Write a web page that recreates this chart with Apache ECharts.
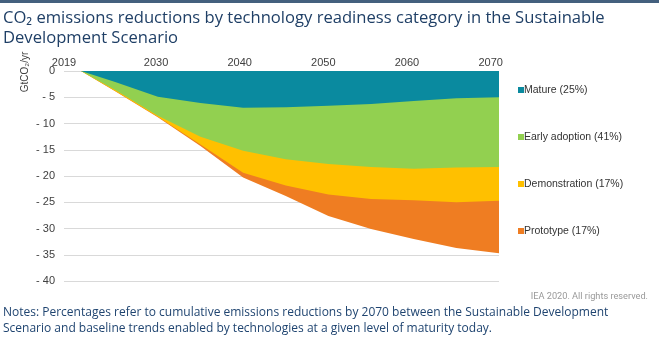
<!DOCTYPE html>
<html>
<head>
<meta charset="utf-8">
<title>CO₂ emissions reductions by technology readiness category</title>
<script src="https://cdn.jsdelivr.net/npm/echarts@6/dist/echarts.min.js"></script>
<style>
  html, body { margin: 0; padding: 0; background: #ffffff; }
  #chart { width: 659px; height: 341px; }
</style>
</head>
<body>
<div id="chart"></div>
<script>
// Years at which the reductions are given (GtCO2/yr, negative = reduction)
const years = [2019, 2021, 2025, 2030, 2035, 2040, 2045, 2050, 2055, 2060, 2065, 2070];

const mature        = [0, 0, -2.1, -4.9, -6.1, -7.0, -6.9, -6.6, -6.3, -5.7, -5.2, -5.0];
const earlyAdoption = [0, 0, -1.5, -3.6, -6.4, -8.2, -9.9, -11.1, -12.0, -12.9, -13.2, -13.3];
const demonstration = [0, 0, -0.2, -0.2, -1.5, -4.2, -5.0, -5.8, -6.1, -6.0, -6.6, -6.4];
const prototype     = [0, 0, -0.05, -0.1, -0.3, -0.9, -2.0, -4.1, -5.7, -7.4, -8.7, -10.0];

const seriesNames = ['Mature (25%)', 'Early adoption (41%)', 'Demonstration (17%)', 'Prototype (17%)'];
const seriesColors = ['#0a8a9f', '#92d050', '#ffc000', '#ef7d22'];

const yearTicks = [2019, 2030, 2040, 2050, 2060, 2070];
const yTicks = { min: -40, max: 0, step: 5 };

const titleText = 'CO₂ emissions reductions by technology readiness category in the Sustainable\nDevelopment Scenario';
const notesText = 'Notes: Percentages refer to cumulative emissions reductions by 2070 between the Sustainable Development\nScenario and baseline trends enabled by technologies at a given level of maturity today.';
const creditText = 'IEA 2020. All rights reserved.';
const unitText = 'GtCO₂/yr';

// Stack the categories: each band's lower edge is the running total down to it.
const values = [mature, earlyAdoption, demonstration, prototype];
const running = values.map((_, k) =>
  years.map((y, i) => {
    let s = 0;
    for (let j = 0; j <= k; j++) s += values[j][i];
    return [y, Math.round(s * 100) / 100];
  })
);

const chart = echarts.init(document.getElementById('chart'), null, { renderer: 'canvas' });

const axisFont = 'Liberation Sans, Arial, sans-serif';
const textFont = '"Open Sans", Roboto, sans-serif';

// Deepest band first, so each shallower band is painted over it.
const bandSeries = [3, 2, 1, 0].map(k => ({
  name: seriesNames[k],
  type: 'line',
  xAxisIndex: 1,
  symbol: 'none',
  lineStyle: { width: 0 },
  itemStyle: { color: seriesColors[k] },
  areaStyle: { color: seriesColors[k], opacity: 1, origin: 0 },
  data: running[k]
}));

chart.setOption({
  animation: false,
  backgroundColor: '#ffffff',
  grid: { left: 64, right: 160, top: 71, bottom: 60 },
  xAxis: [
    {
      // year labels along the top
      type: 'value',
      position: 'top',
      min: 2019,
      max: 2071,
      axisLine: { show: false },
      axisTick: { show: false },
      splitLine: { show: false },
      axisLabel: {
        customValues: yearTicks,
        formatter: v => String(v),
        color: '#404040',
        fontFamily: axisFont,
        fontSize: 11,
        margin: 3
      }
    },
    {
      // axis that carries the data
      type: 'value',
      min: 2019,
      max: 2070,
      show: false
    }
  ],
  yAxis: {
    type: 'value',
    min: yTicks.min,
    max: yTicks.max,
    interval: yTicks.step,
    axisLine: { show: false },
    axisTick: { show: false },
    splitLine: { lineStyle: { color: '#d9d9d9', width: 1 } },
    axisLabel: {
      color: '#404040',
      fontFamily: axisFont,
      fontSize: 11,
      margin: 9,
      formatter: v => (v === 0 ? '0' : '- ' + Math.abs(v))
    }
  },
  legend: {
    orient: 'vertical',
    left: 513,
    top: 78,
    itemWidth: 6,
    itemHeight: 6,
    itemGap: 33,
    icon: 'rect',
    data: seriesNames,
    textStyle: {
      color: '#333333',
      fontFamily: axisFont,
      fontSize: 10.5,
      lineHeight: 14,
      padding: [0, 0, 0, -5]
    }
  },
  series: bandSeries,
  graphic: [
    {
      type: 'rect',
      shape: { x: 0, y: 0, width: 659, height: 3 },
      style: { fill: '#44607e' }
    },
    {
      type: 'text',
      x: 3,
      y: 8,
      style: {
        text: titleText,
        fill: '#1f3f66',
        font: '16.6px ' + textFont,
        lineHeight: 20.5
      }
    },
    {
      type: 'text',
      x: 25,
      y: 72,
      rotation: Math.PI / 2,
      style: {
        text: unitText,
        fill: '#404040',
        font: '10px ' + axisFont,
        align: 'center',
        verticalAlign: 'middle'
      }
    },
    {
      type: 'text',
      x: 648,
      y: 297,
      style: {
        text: creditText,
        fill: '#999999',
        font: '9.2px Roboto, sans-serif',
        align: 'right',
        verticalAlign: 'middle'
      }
    },
    {
      type: 'text',
      x: 3,
      y: 305,
      style: {
        text: notesText,
        fill: '#1f4470',
        font: '12px ' + textFont,
        lineHeight: 16
      }
    }
  ]
});
</script>
</body>
</html>
